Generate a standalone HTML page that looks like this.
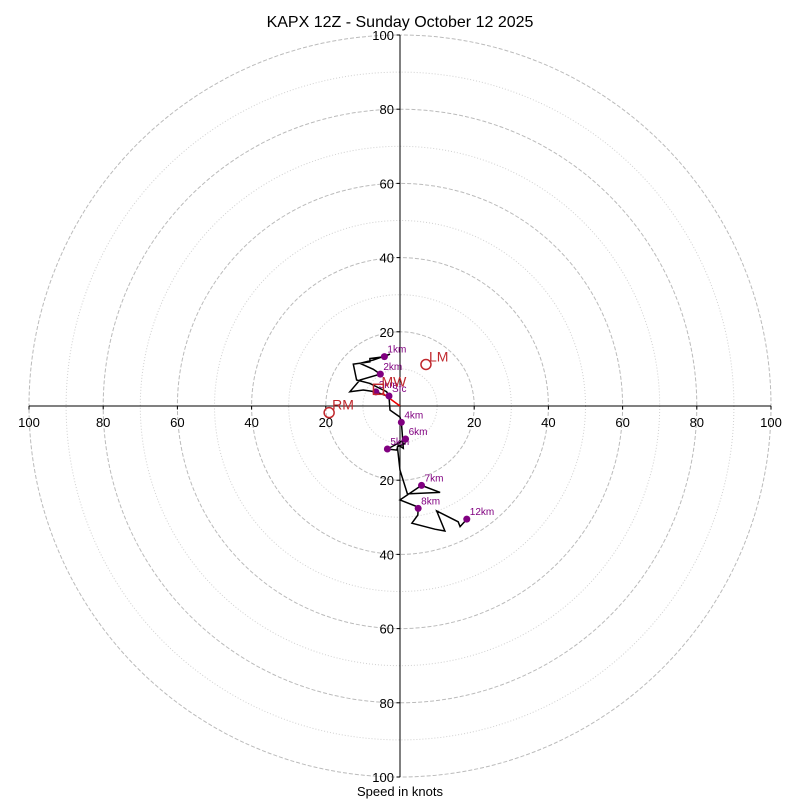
<!DOCTYPE html>
<html><head><meta charset="utf-8"><style>
body{margin:0;background:#fff}
svg{display:block;font-family:"Liberation Sans","DejaVu Sans",sans-serif}
</style></head><body>
<svg id="c" width="800" height="800" viewBox="0 0 800 800">
<text x="400" y="27" text-anchor="middle" font-size="16">KAPX 12Z - Sunday October 12 2025</text>
<text x="400" y="796" text-anchor="middle" font-size="13">Speed in knots</text>
</svg>
<script>
const pathU=[-2.96,-3.6,-8.1,-11.7,-12.6,-8.1,-8.1,-4.2,-2.7,-7.2,-10.8,-7.2,-5.3,-10.8,-13.5,-9.9,-6.5,-2.96,-2.7,0,0.36,0.54,0.9,-0.45,-0.9,-3.4,-1.35,1.5,1.35,-0.7,0,2.0,10.8,5.8,0,4.5,4.9,4.8,3.2,9.4,12.1,9.9,15.7,16.2,18.0];
const pathV=[2.7,3.86,6.1,7.0,11.3,11.9,12.8,13.3,14.0,12.4,11.5,9.9,8.6,7.0,3.86,4.3,3.8,2.5,-1.1,-3.0,-4.4,-6.5,-11.4,-10.5,-11.9,-11.6,-10.5,-8.9,-10.1,-11.0,-17.3,-23.7,-23.3,-21.4,-25.3,-27.1,-27.6,-29.4,-31.6,-33.2,-33.7,-28.3,-31.2,-32.5,-30.5];
const mkLabels=["Sfc","1km","2km","3km","4km","5km","6km","7km","8km","12km"];
const mkU=[-2.96,-4.2,-5.3,-6.5,0.36,-3.4,1.5,5.8,4.9,18.0];
const mkV=[2.7,13.3,8.6,3.8,-4.4,-11.6,-8.9,-21.4,-27.6,-30.5];
const motionLabels=["LM","RM","MW"];
const motionU=[7.0,-19.1,-5.8];
const motionV=[11.2,-1.8,4.5];
const ringVals=[10,20,30,40,50,60,70,80,90,100];
const tickVals=[100,80,60,40,20,20,40,60,80,100];
const tickSigned=[-100,-80,-60,-40,-20,20,40,60,80,100];

const cx=400,cy=406,k=3.71;
const X=u=>cx+u*k, Y=v=>cy-v*k;
const svg=document.getElementById('c');
const NS='http://www.w3.org/2000/svg';
function mk(t,a){const e=document.createElementNS(NS,t);for(const n in a)e.setAttribute(n,a[n]);svg.appendChild(e);return e;}

ringVals.forEach(r=>{
 const dashed=r%20===0;
 const e=mk('circle',{cx:cx,cy:cy,r:r*k,fill:'none',stroke:dashed?'#bbb':'#d0d0d0','stroke-width':1,'stroke-dasharray':dashed?'4,2':'1,2'});
 
 
});
let a=mk('line',{x1:X(-100),y1:cy,x2:X(100),y2:cy,stroke:'#000','stroke-width':1});


a=mk('line',{x1:cx,y1:Y(100),x2:cx,y2:Y(-100),stroke:'#000','stroke-width':1});


tickSigned.forEach((t,i)=>{
 mk('line',{x1:X(t),y1:cy,x2:X(t),y2:cy+3.5,stroke:'#000'});
 let e=mk('text',{x:X(t),y:cy+21,'text-anchor':'middle','font-size':13});
 e.textContent=tickVals[i];
 
 
 mk('line',{x1:cx,y1:Y(t),x2:cx-3.5,y2:Y(t),stroke:'#000'});
 e=mk('text',{x:cx-6,y:Y(t)+5,'text-anchor':'end','font-size':13});
 e.textContent=tickVals[tickVals.length-1-i];
 
 
});
let d=pathU.map((u,i)=>(i?'L':'M')+X(u).toFixed(1)+' '+Y(pathV[i]).toFixed(1)).join(' ');
let p=mk('path',{d:d,fill:'none',stroke:'#000','stroke-width':1.5,'stroke-linejoin':'miter'});


let sl=mk('line',{x1:X(motionU[2]+1),y1:Y(motionV[2]-1),x2:cx,y2:cy,stroke:'#e00','stroke-width':1.5});


mkLabels.forEach((l,i)=>{
 const c=mk('circle',{cx:X(mkU[i]),cy:Y(mkV[i]),r:3.5,fill:'#800080'});
 
 
 const t=mk('text',{x:X(mkU[i])+3,y:Y(mkV[i])-4,'font-size':10,fill:'#800080'});
 t.textContent=l;
 
 
});
motionLabels.forEach((l,i)=>{
 const x=X(motionU[i]),y=Y(motionV[i]);
 let s;
 if(l==='MW') s=mk('rect',{x:x-5,y:y-5,width:10,height:10,fill:'none',stroke:'#c0282d','stroke-width':1.5});
 else s=mk('circle',{cx:x,cy:y,r:5,fill:'none',stroke:'#c0282d','stroke-width':1.5});
 
 
 const t=mk('text',{x:x+3,y:y-3,'font-size':14,fill:'#c0282d'});
 t.textContent=l;
 
 
});
</script>
</body></html>
